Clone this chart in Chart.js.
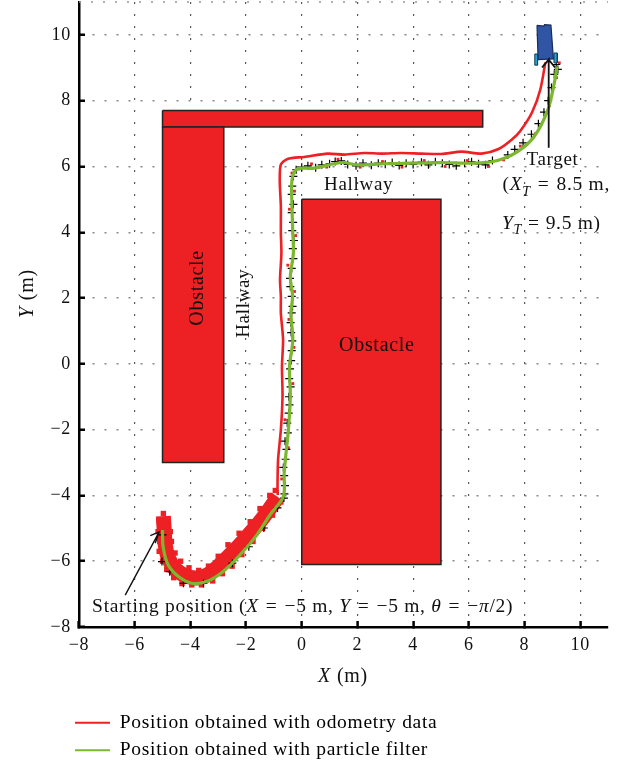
<!DOCTYPE html>
<html>
<head>
<meta charset="utf-8">
<title>Robot path</title>
<script src="https://cdn.jsdelivr.net/npm/chart.js@4/dist/chart.umd.min.js"></script>
<style>
  html, body { margin: 0; padding: 0; background: #fff; }
  canvas { display: block; }
</style>
</head>
<body>
<canvas id="path-chart" width="629" height="763"></canvas>
<script>
// tick values and labels
var xTicks = [-8, -6, -4, -2, 0, 2, 4, 6, 8, 10];
var xTickLabels = ['\u22128', '\u22126', '\u22124', '\u22122', '0', '2', '4', '6', '8', '10'];
var yTicks = [-8, -6, -4, -2, 0, 2, 4, 6, 8, 10];
var yTickLabels = ['\u22128', '\u22126', '\u22124', '\u22122', '0', '2', '4', '6', '8', '10'];
var legendNames = ['Position obtained with odometry data', 'Position obtained with particle filter'];

// walls, each one a closed outline in metres
var obstacleBig = [[0, 5], [5, 5], [5, -6.1], [0, -6.1], [0, 5]];
var obstacleLeft = [[-5, 7.2], [-2.8, 7.2], [-2.8, -3], [-5, -3], [-5, 7.2]];
var obstacleTop = [[-5, 7.7], [6.5, 7.7], [6.5, 7.2], [-5, 7.2], [-5, 7.7]];

// dotted row along the top of the plot
var topRow = [[-8, 11], [11, 11]];

// the robot at the target
var robotBody = [[8.45, 10.29], [8.7, 10.27], [8.72, 10.31], [8.95, 10.3], [9.04, 9.27], [8.49, 9.25], [8.45, 10.29]];
var wheelLeft = [[8.37, 9.42], [8.47, 9.42], [8.47, 9.08], [8.37, 9.08], [8.37, 9.42]];
var wheelRight = [[9.06, 9.45], [9.18, 9.45], [9.18, 9.15], [9.06, 9.15], [9.06, 9.45]];

// annotation arrows
var arrowStart = [[-6.34, -7.03], [-5.12, -5.11], [-5.44, -5.22], [-5.12, -5.11], [-5.26, -5.45]];
var arrowTarget = [[8.87, 6.57], [8.87, 9.25], [8.63, 9.01], [8.87, 9.25], [9.1, 9.01]];

// particle filter estimate
var filterPath = [[-5, -5.05], [-4.98, -5.55], [-4.8, -6.11], [-4.44, -6.46], [-3.96, -6.67], [-3.42, -6.62],
  [-2.82, -6.31], [-2.22, -5.81], [-1.61, -5.2], [-1.14, -4.59], [-0.66, -4.03], [-0.63, -3.32], [-0.59, -2.92],
  [-0.48, -2.01], [-0.41, -0.99], [-0.44, -0.08], [-0.32, 0.73], [-0.39, 1.54], [-0.33, 2.05], [-0.41, 2.65],
  [-0.3, 3.36], [-0.32, 3.97], [-0.35, 4.78], [-0.35, 5.59], [-0.17, 5.92], [0.43, 5.95], [1.45, 6.12],
  [1.99, 6.05], [2.83, 6.08], [4.99, 6.12], [6.19, 6.1], [7.03, 6.18], [7.75, 6.45], [8.35, 6.91], [8.84, 7.72],
  [9.07, 8.53], [9.17, 9.04]];

// odometry: heavy noisy start (centre and ragged edges), then the thin line
var odometryBand = [[-4.97, -4.63], [-4.94, -5.05], [-4.9, -5.51], [-4.79, -5.9], [-4.54, -6.24], [-4.14, -6.45],
  [-3.71, -6.51], [-3.28, -6.36], [-2.84, -6.03], [-2.37, -5.63], [-1.94, -5.23], [-1.54, -4.84], [-1.18, -4.44],
  [-0.86, -4.05]];
var odometryEdges = [[-4.97, -4.55], [-5.12, -4.8], [-5.16, -5.1], [-5.1, -5.4], [-5.12, -5.7], [-5.0, -6.0], [-4.85, -6.25],
  [-4.6, -6.5], [-4.3, -6.68], [-3.95, -6.72], [-3.6, -6.72], [-3.2, -6.6], [-2.85, -6.38], [-2.5, -6.15], [-2.15, -5.8],
  [-1.75, -5.4], [-1.4, -5.0], [-1.05, -4.6], [-0.75, -4.2],
  [-4.8, -4.75], [-4.72, -5.1], [-4.68, -5.4], [-4.55, -5.75], [-4.35, -6], [-4.05, -6.2], [-3.7, -6.28], [-3.35, -6.15],
  [-3.0, -5.85], [-2.65, -5.5], [-2.25, -5.15], [-1.85, -4.8], [-1.5, -4.4], [-1.15, -4.0], [-0.95, -3.85]];
var odometryPath = [[-0.86, -3.99], [-0.87, -3.73], [-0.85, -2.92], [-0.75, -2.01], [-0.69, -0.99], [-0.71, -0.08],
  [-0.67, 0.73], [-0.75, 1.54], [-0.75, 2.05], [-0.78, 2.56], [-0.73, 3.37], [-0.75, 3.98], [-0.75, 4.79],
  [-0.79, 5.6], [-0.75, 6.06], [-0.51, 6.23], [0.09, 6.29], [0.93, 6.39], [1.53, 6.36], [2.25, 6.41], [2.86, 6.39],
  [3.58, 6.41], [4.3, 6.39], [5.02, 6.38], [5.74, 6.45], [6.46, 6.39], [7.07, 6.53], [7.55, 6.82], [7.85, 7.08],
  [8.27, 7.64], [8.57, 8.34], [8.75, 9.16]];

var particlesBlack = [[-5, -5.2], [-5.02, -6.01], [-4.74, -6.32], [-4.25, -6.67], [-3.53, -6.67], [-2.49, -6.06],
  [-1.9, -5.56], [-1.36, -4.99], [-0.87, -4.38], [-0.64, -4.08],
  [-0.62, -3.95], [-0.6, -3.7], [-0.63, -3.4], [-0.66, -3.15], [-0.58, -2.9], [-0.55, -2.6], [-0.6, -2.35],
  [-0.5, -2.1], [-0.52, -1.8], [-0.47, -1.5], [-0.44, -1.25], [-0.46, -1], [-0.4, -0.7], [-0.45, -0.45],
  [-0.42, -0.15], [-0.38, 0.1], [-0.36, 0.4], [-0.34, 0.7], [-0.38, 0.95], [-0.4, 1.25], [-0.36, 1.55],
  [-0.33, 1.75], [-0.36, 2.05], [-0.41, 2.35], [-0.42, 2.6], [-0.36, 2.9], [-0.3, 3.2], [-0.32, 3.5], [-0.28, 3.75],
  [-0.34, 4.05], [-0.31, 4.3], [-0.36, 4.6], [-0.3, 4.85], [-0.36, 5.15], [-0.34, 5.4], [-0.3, 5.7], [-0.2, 5.9],
  [0, 5.98], [0.22, 6.02], [0.5, 5.96], [0.72, 6.05], [1, 6.08], [1.2, 6.15], [1.42, 6.17], [1.65, 6.06], [1.95, 6.02],
  [2.2, 6.1], [2.5, 6.04], [2.75, 6.1], [3, 6.07], [3.25, 6.12], [3.5, 6.03], [3.75, 6.1], [4, 6.06], [4.3, 6.13],
  [4.55, 6.05], [4.8, 6.14], [5.05, 6.1], [5.3, 6.06], [5.55, 6.02], [5.85, 6.1], [6.1, 6.14], [6.35, 6.08],
  [6.6, 6.05], [6.85, 6.18], [7.4, 6.35], [7.65, 6.52], [7.95, 6.72], [8.25, 6.98], [8.5, 7.3], [8.7, 7.65],
  [8.85, 8], [8.97, 8.4], [9.07, 8.8], [9.14, 9.1], [9.2, 8.95]];
var particlesRed = [[-0.72, -3.5], [-0.48, -2.55], [-0.6, -1.7], [-0.32, -0.6], [-0.28, 0.5], [-0.46, 1.35], [-0.26, 2.2],
  [-0.5, 3], [-0.22, 3.9], [-0.44, 4.7], [-0.26, 5.25], [-0.35, 5.8], [0.35, 6.08], [0.9, 5.98], [1.3, 6.22], [2.1, 5.98],
  [2.9, 6.15], [3.6, 5.98], [4.4, 6.18], [5.15, 6], [5.95, 6.18], [6.7, 6], [7.25, 6.2], [7.85, 6.62], [8.4, 7], [8.9, 7.85],
  [9.15, 8.7], [9.25, 9.15]];

var ink = '#111';
var red = '#ed2024';
var green = '#7cb82f';
var serif = '"Liberation Serif", serif';

function pts(list) {
  return list.map(function (p) { return { x: p[0], y: p[1] }; });
}

// a filled outline
function shape(list, fillColor, edge, width) {
  return { data: pts(list), showLine: true, fill: 'shape', backgroundColor: fillColor, borderColor: edge,
    borderWidth: width, pointRadius: 0, pointHoverRadius: 0, tension: 0 };
}

// an open line
function line(list, color, width, smooth) {
  return { data: pts(list), showLine: true, fill: false, borderColor: color, backgroundColor: color,
    borderWidth: width, pointRadius: 0, pointHoverRadius: 0, tension: smooth };
}

// single markers
function marks(list, style, radius, color, width) {
  return { data: pts(list), showLine: false, pointStyle: style, pointRadius: radius, pointBorderColor: color,
    pointBackgroundColor: color, pointBorderWidth: width, borderColor: color, backgroundColor: color };
}

// draw a mix of upright, italic and subscript pieces, one after the other
function runs(ctx, x, y, pieces, size) {
  pieces.forEach(function (p) {
    var s = p.sub ? size * 0.72 : size;
    ctx.font = (p.it ? 'italic ' : '') + s + 'px ' + serif;
    ctx.fillText(p.t, x, y + (p.sub ? size * 0.28 : 0));
    x += ctx.measureText(p.t).width + (p.gap || 0);
  });
}

var notesPlugin = {
  id: 'notes',
  beforeDraw: function (chart) {
    // the legend sits left of the plot and below the axis title
    chart.legend.left = 67;
    chart.legend.top = 705;
    chart.ctx.letterSpacing = '0.7px';
  },
  afterDatasetsDraw: function (chart) {
    var ctx = chart.ctx;
    var sx = chart.scales.x;
    var sy = chart.scales.y;
    function at(x, y) { return [sx.getPixelForValue(x), sy.getPixelForValue(y)]; }
    function put(x, y, pieces, size) {
      var p = at(x, y);
      runs(ctx, p[0], p[1], pieces, size);
    }
    function putUp(x, y, pieces, size) {
      var p = at(x, y);
      ctx.save();
      ctx.translate(p[0], p[1]);
      ctx.rotate(-Math.PI / 2);
      runs(ctx, 0, 0, pieces, size);
      ctx.restore();
    }
    ctx.save();
    ctx.fillStyle = ink;
    ctx.textBaseline = 'alphabetic';
    ctx.textAlign = 'left';
    put(0.8, 5.28, [{ t: 'Hallway' }], 19);
    put(1.34, 0.4, [{ t: 'Obstacle' }], 20);
    putUp(-3.54, 1.16, [{ t: 'Obstacle' }], 20);
    putUp(-1.89, 0.79, [{ t: 'Hallway' }], 19);
    put(8.07, 6.03, [{ t: 'Target' }], 19);
    put(7.21, 5.28, [{ t: '(' }, { t: 'X', it: true }, { t: 'T', it: true, sub: true, gap: 7 }, { t: '=', gap: 7 }, { t: '8.5 m,' }], 19.5);
    put(7.19, 4.11, [{ t: 'Y', it: true }, { t: 'T', it: true, sub: true, gap: 6 }, { t: '=', gap: 6 }, { t: '9.5 m)' }], 19.5);
    put(-7.53, -7.54, [{ t: 'Starting position (' }, { t: 'X', it: true, gap: 7 }, { t: '=', gap: 7 }, { t: '\u22125 m, ' },
      { t: 'Y', it: true, gap: 7 }, { t: '=', gap: 7 }, { t: '\u22125 m, ' },
      { t: '\u03b8', it: true, gap: 7 }, { t: '=', gap: 7 }, { t: '\u2212' }, { t: '\u03c0', it: true }, { t: '/2)' }], 19.5);
    // axis titles, they mix italic and upright so the scale title can't do them
    runs(ctx, 318, 682, [{ t: 'X', it: true, gap: 6 }, { t: '(m)' }], 20);
    ctx.translate(33, 318);
    ctx.rotate(-Math.PI / 2);
    runs(ctx, 0, 0, [{ t: 'Y', it: true, gap: 6 }, { t: '(m)' }], 20);
    ctx.restore();
  }
};

var tickFont = { family: serif, size: 18 };
var topDots = line(topRow, '#999', 1.5, 0);
topDots.borderDash = [2, 10];
topDots.clip = false;

var myChart = new Chart(document.getElementById('path-chart'), {
  type: 'scatter',
  data: {
    datasets: [
      line(arrowStart, ink, 1.4, 0),
      line(arrowTarget, ink, 1.8, 0),
      shape(robotBody, '#2f55a4', '#1c2c55', 1.2),
      shape(wheelLeft, '#1ea6dc', '#1c3c55', 1),
      shape(wheelRight, '#1ea6dc', '#1c3c55', 1),
      line(filterPath, green, 3.2, 0.3),
      marks(particlesBlack, 'cross', 4, '#000', 1.2),
      marks(particlesRed, 'rect', 2, red, 0),
      marks(odometryEdges, 'rect', 3.8, red, 0),
      line(odometryBand, red, 15, 0.3),
      line(odometryPath, red, 2.6, 0.25),
      shape(obstacleBig, red, '#222', 1.5),
      shape(obstacleLeft, red, '#222', 1.5),
      shape(obstacleTop, red, '#222', 1.5),
      topDots
    ]
  },
  options: {
    responsive: false,
    animation: false,
    layout: { autoPadding: false, padding: { left: 0, right: 21, top: 2, bottom: 0 } },
    plugins: {
      tooltip: { enabled: false },
      legend: {
        position: 'bottom',
        align: 'start',
        onClick: null,
        labels: {
          boxWidth: 35,
          boxHeight: 2,
          padding: 8,
          color: ink,
          font: { family: serif, size: 19.5 },
          generateLabels: function () {
            return [
              { text: legendNames[0], fillStyle: red, strokeStyle: red, lineWidth: 0, hidden: false },
              { text: legendNames[1], fillStyle: green, strokeStyle: green, lineWidth: 0, hidden: false }
            ];
          }
        }
      }
    },
    scales: {
      x: {
        type: 'linear',
        min: -8,
        max: 11,
        afterBuildTicks: function (scale) {
          scale.ticks = xTicks.map(function (v) { return { value: v }; });
        },
        afterFit: function (scale) {
          scale.height = 136 - scale.chart.legend.height;
          scale.paddingLeft = 0;
          scale.paddingRight = 0;
        },
        border: { display: true, color: '#000', width: 2.5, dash: [2, 10] },
        grid: { color: '#555', lineWidth: 1.2, tickLength: -6, tickColor: '#000', tickWidth: 2.5, tickBorderDash: [] },
        ticks: {
          autoSkip: false, maxRotation: 0, padding: 13, color: ink, font: tickFont,
          callback: function (v) { return xTickLabels[xTicks.indexOf(v)]; }
        }
      },
      y: {
        type: 'linear',
        min: -8,
        max: 11,
        afterBuildTicks: function (scale) {
          scale.ticks = yTicks.map(function (v) { return { value: v }; });
        },
        afterFit: function (scale) {
          // long tick padding must not push the plot down from the top edge
          scale.width = 79;
          scale.paddingTop = 0;
          scale.paddingBottom = 0;
        },
        border: { display: true, color: '#000', width: 2.5, dash: [2, 10] },
        grid: { color: '#888', lineWidth: 1.5, tickLength: -6, tickColor: '#000', tickWidth: 2.5, tickBorderDash: [] },
        ticks: {
          autoSkip: false, padding: 14, color: ink, font: tickFont,
          callback: function (v) { return yTickLabels[yTicks.indexOf(v)]; }
        }
      }
    }
  },
  plugins: [notesPlugin]
});
</script>
</body>
</html>
